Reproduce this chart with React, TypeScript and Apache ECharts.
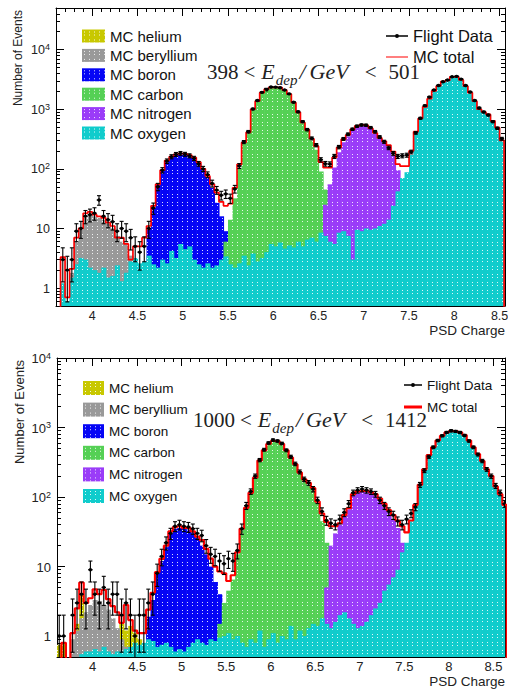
import React, { useEffect, useRef } from 'react';
import * as echarts from 'echarts';

// ---------------- binning and axes ----------------
const BIN_WIDTH = 0.05;
const X_START = 3.6;
const X_MAX = [8.56, 8.63]; // top panel, bottom panel
const Y_MIN = 0.5;
const Y_MAX = [50000, 10000];
const X_MAJOR_TICKS = [4, 4.5, 5, 5.5, 6, 6.5, 7, 7.5, 8, 8.5];
const Y_DECADES = [1, 10, 100, 1000, 10000];

const SPECIES = ['MC helium', 'MC beryllium', 'MC boron', 'MC carbon', 'MC nitrogen', 'MC oxygen'];
const SPECIES_COLORS = ['#c8c800', '#999999', '#0505f5', '#55d055', '#9a3cf8', '#10cccc'];

// ---------------- top panel: 398 < Edep/GeV < 501 (bins from 3.60, width 0.05) ----------------
const totalTop = [
  0, 3.3, 0.7, 2.1, 7, 10, 18, 19, 17, 16,
  15, 12.5, 11, 7, 7, 5.5, 3, 5, 5, 7,
  11, 24, 55, 95, 138, 160, 175, 180, 178, 170,
  155, 130, 100, 76, 55, 40, 28, 24, 26, 48,
  119, 277, 410, 1000, 1370, 1900, 2170, 2330, 2330, 2300,
  2100, 1800, 1300, 890, 600, 450, 320, 240, 130, 105,
  105, 155, 228, 313, 370, 460, 525, 545, 535, 480,
  400, 330, 290, 250, 195, 120, 111, 111, 200, 420,
  700, 1100, 1500, 2030, 2450, 2900, 3050, 3500, 3500, 3100,
  2450, 1900, 1370, 1000, 900, 820, 640, 490, 300,
];
const flightTop = [
  0, 3, 2, 3, 9, 10, 16, 17, 18, 30,
  16, 14, 13, 9, 10, 9, 7, 5, 4, 5,
  10, 22, 50, 95, 135, 160, 175, 182, 176, 166,
  150, 122, 100, 80, 57, 44, 36, 38, 32, 46,
  112, 282, 420, 1010, 1400, 1920, 2200, 2360, 2350, 2300,
  2100, 1810, 1310, 905, 620, 455, 325, 250, 142, 122,
  120, 162, 232, 318, 380, 462, 520, 545, 540, 492,
  420, 342, 285, 225, 182, 162, 166, 170, 192, 402,
  705, 1150, 1600, 2100, 2500, 2900, 3100, 3500, 3560, 3200,
  2500, 1950, 1400, 1050, 900, 800, 620, 480, 320,
];
const heliumTopStart = 15;
const heliumTop = [0.6, 0.7, 0.9, 0.6];
const berylliumTopStart = 2;
const berylliumTop = [0.6, 1.8, 6, 9.5, 15, 17, 16, 15, 14, 12, 10, 7.5, 6, 5.5, 3.5, 2, 1.2, 0.8];
const boronTopStart = 19;
const boronTop = [0.8, 10, 22, 55, 95, 135, 158, 172, 176, 174, 165, 148, 122, 97, 72, 48, 27, 16, 9, 3, 0.8];
const carbonTopStart = 35;
const carbonTop = [
  0.7, 1.5, 6, 14, 32, 100, 265, 400, 980, 1350, 1880, 2150, 2310, 2310, 2280,
  2080, 1780, 1280, 870, 580, 430, 300, 210, 90, 45, 14, 4, 1.5, 0.7,
];
const nitrogenTopStart = 54;
const nitrogenTop = [
  0.6, 0.8, 1.2, 2, 4, 25, 55, 105, 190, 280, 350, 450, 510, 530, 525, 470, 390,
  320, 275, 230, 165, 95, 55, 25, 8, 2.5, 0.8,
];
const oxygenTopStart = 1;
const oxygenTop = [
  1.2, 0.6, 1.5, 2.5, 3.2, 3.0, 2.2, 2.0, 1.8, 2.2,
  1.5, 1.6, 2.4, 1.3, 1.8, 2.8, 3.2, 2.6, 2.8, 3.5,
  2.5, 2.2, 3.0, 2.6, 4.2, 3.2, 5.5, 4.5, 5.0, 3.0,
  2.5, 2.2, 2.6, 2.2, 2.4, 3.0, 3.4, 2.5, 2.2, 2.6,
  3.5, 2.4, 3.8, 2.8, 3.2, 4.0, 5.5, 5.0, 5.8, 4.6,
  5.2, 4.8, 6.0, 5.0, 6.5, 7.0, 6.0, 8.5, 7.5, 6.0,
  5.5, 8.5, 9.0, 7.5, 3.0, 9.5, 9.0, 10, 9.5, 10,
  11, 12, 14, 24, 42, 70, 88, 170, 400, 690,
  1090, 1490, 2020, 2440, 2890, 3040, 3490, 3490, 3090, 2440,
  1890, 1360, 990, 890, 810, 630, 480, 295,
];

// ---------------- bottom panel: 1000 < Edep/GeV < 1412 ----------------
const totalBottom = [
  0, 0.8, 0, 1.1, 2.5, 5.9, 3.0, 3.5, 4.7, 4.0,
  4.6, 3.4, 2.7, 2.2, 1.55, 2.8, 1.7, 1.2, 1.1, 1.1,
  2.4, 4.2, 8.3, 12.9, 20, 32, 37, 38, 36, 36,
  32, 27, 24, 18, 13, 10, 8.5, 8, 6.2, 7.5,
  16, 35, 70, 115, 190, 335, 470, 580, 640, 640,
  580, 470, 370, 296, 225, 180, 160, 135, 86, 58,
  44, 38, 38, 42, 55, 69, 110, 121, 123, 123,
  118, 110, 95, 80, 65, 55, 46, 38, 31, 46,
  77, 150, 250, 400, 520, 650, 760, 850, 890, 890,
  850, 780, 650, 520, 415, 330, 250, 200, 142, 110,
  77,
];
const flightBottom = [
  1, 1, 0, 2, 3, 4, 3, 9, 4, 3,
  5, 3, 4, 4, 2, 3, 2, 1, 2, 2,
  3, 4, 8, 14, 22, 30, 38, 40, 38, 37,
  35, 30, 28, 20, 15, 14, 12, 11, 13, 12,
  17, 35, 75, 120, 200, 340, 480, 600, 660, 640,
  590, 470, 380, 300, 230, 180, 160, 130, 90, 62,
  46, 42, 40, 48, 60, 80, 115, 125, 130, 125,
  120, 110, 90, 75, 62, 55, 45, 40, 48, 58,
  72, 150, 240, 380, 520, 650, 760, 850, 900, 880,
  850, 770, 640, 520, 410, 330, 250, 200, 145, 115,
  80,
];
const heliumBottomStart = 0;
const heliumBottom = [0.75, 0.8, 0, 0.6, 1.5, 4, 1.2, 0.6, 0, 0, 0, 0, 0, 0.6, 1.5, 1.2, 1.4, 1.1, 0.9, 0.6];
const berylliumBottomStart = 3;
const berylliumBottom = [0.9, 1.2, 1.8, 2.2, 2.8, 3.3, 3.2, 2.8, 2.4, 1.8, 1.3, 0.9, 0.7, 0.6];
const boronBottomStart = 19;
const boronBottom = [0.7, 1.9, 3.3, 8, 12, 19, 30, 35, 36, 35, 34, 31, 26, 20, 15, 10, 6, 4, 2.5, 1.2, 0.6];
const carbonBottomStart = 35;
const carbonBottom = [
  0.8, 1.5, 3, 4.5, 6.5, 15, 34, 68, 112, 185, 330, 460, 570, 630, 630, 570,
  460, 360, 290, 220, 175, 150, 125, 80, 45, 22, 12, 4, 2, 1.2, 0.8,
];
const nitrogenBottomStart = 57;
const nitrogenBottom = [
  0.6, 0.9, 1.5, 5, 20, 30, 40, 53, 67, 105, 118, 120, 120, 115, 105, 90, 75,
  60, 48, 36, 22, 10, 4, 1.5, 0.7,
];
const oxygenBottomStart = 5;
const oxygenBottom = [
  0.55, 0.6, 0.6, 0.65, 0.6, 0.7, 0.6, 0.55, 0.6, 0.6,
  0.65, 0.7, 0.8, 0.75, 0.8, 0.9, 0.85, 0.7, 0.75, 0.8,
  0.7, 0.6, 0.65, 0.6, 0.7, 0.8, 0.9, 0.8, 0.75, 0.9,
  0.85, 0.95, 1.0, 1.1, 0.9, 1.0, 0.8, 0.7, 0.9, 0.8,
  1.2, 0.7, 0.9, 1.1, 0.8, 1.0, 0.9, 1.4, 0.9, 1.2,
  1.0, 1.3, 1.5, 1.4, 1.8, 1.5, 1.3, 1.6, 2.0, 2.2,
  1.8, 1.5, 1.3, 1.4, 1.6, 2.0, 2.5, 3.0, 4.5, 5.5,
  7, 9, 16, 22, 45, 75, 148, 248, 398, 518,
  648, 758, 848, 888, 888, 848, 778, 648, 518, 413,
  328, 248, 198, 140, 108, 76,
];

const PANELS = [
  {
    total: totalTop, flight: flightTop,
    species: [
      [heliumTopStart, heliumTop], [berylliumTopStart, berylliumTop], [boronTopStart, boronTop],
      [carbonTopStart, carbonTop], [nitrogenTopStart, nitrogenTop], [oxygenTopStart, oxygenTop],
    ],
    range: ['398', '501'],
  },
  {
    total: totalBottom, flight: flightBottom,
    species: [
      [heliumBottomStart, heliumBottom], [berylliumBottomStart, berylliumBottom], [boronBottomStart, boronBottom],
      [carbonBottomStart, carbonBottom], [nitrogenBottomStart, nitrogenBottom], [oxygenBottomStart, oxygenBottom],
    ],
    range: ['1000', '1412'],
  },
];

const FONT = 'Liberation Sans';
const SERIF = 'Liberation Serif';

function makePattern(color: string) {
  const W = 5;
  const H = 8;
  const c = document.createElement('canvas');
  c.width = W;
  c.height = H;
  const ctx = c.getContext('2d') as CanvasRenderingContext2D;
  ctx.fillStyle = color;
  ctx.fillRect(0, 0, W, H);
  ctx.fillStyle = 'rgba(255,255,255,0.85)';
  ctx.fillRect(2, 2, 1, 1);
  ctx.fillRect(2, 5, 1, 1);
  return { image: c.toDataURL(), repeat: 'repeat', imageWidth: W, imageHeight: H };
}

function buildOption() {
  const patterns = SPECIES_COLORS.map(makePattern);
  const grids = [
    { left: 56, right: 3, top: 8, height: 298, outerBoundsMode: 'none' },
    { left: 57, right: 3, top: 358, height: 299, outerBoundsMode: 'none' },
  ];
  const xAxes: any[] = [];
  const yAxes: any[] = [];
  const lineStyle = { color: '#000', width: 1 };
  const tickStyle = { color: '#000', width: 1 };

  [0, 1].forEach((g) => {
    const xMax = X_MAX[g];
    const yMax = Y_MAX[g];
    const xMinor: number[] = [];
    for (let k = 37; k <= Math.floor(xMax * 10); k++) if (k % 5 !== 0) xMinor.push(k / 10);
    const yMinor: number[] = [];
    [0.1, 1, 10, 100, 1000, 10000].forEach((d) => {
      for (let s = 2; s <= 9; s++) {
        const v = Math.round(s * d * 1000) / 1000;
        if (v > Y_MIN && v < yMax) yMinor.push(v);
      }
    });
    const decades = Y_DECADES.filter((v) => v <= yMax);
    const fs = g === 0 ? 12.5 : 13;
    ['bottom', 'bottom', 'top', 'top'].forEach((pos, k) => {
      const major = k % 2 === 0;
      const ax: any = {
        type: 'value', gridIndex: g, min: X_START, max: xMax, position: pos, silent: true,
        axisLine: { show: major, onZero: false, lineStyle },
        axisTick: { show: true, inside: true, length: major ? 8 : 4, customValues: major ? X_MAJOR_TICKS : xMinor, lineStyle: tickStyle },
        axisLabel: {
          show: major && pos === 'bottom', customValues: X_MAJOR_TICKS, margin: 3,
          fontFamily: FONT, fontSize: fs, color: '#222',
        },
        splitLine: { show: false },
      };
      if (major && pos === 'bottom') {
        ax.name = 'PSD Charge';
        ax.nameLocation = 'end';
        ax.nameGap = 0;
        ax.nameMoveOverlap = false;
        ax.nameTextStyle = {
          fontFamily: FONT, fontSize: 13.5, color: '#222', align: 'right', verticalAlign: 'top',
          padding: [17, 0, 0, 0],
        };
      }
      xAxes.push(ax);
    });
    ['left', 'left', 'right', 'right'].forEach((pos, k) => {
      const major = k % 2 === 0;
      yAxes.push({
        type: 'log', logBase: 10, gridIndex: g, min: Y_MIN, max: yMax, position: pos, silent: true,
        axisLine: { show: major, onZero: false, lineStyle },
        axisTick: { show: true, inside: true, length: major ? 8 : 4, customValues: major ? decades : yMinor, lineStyle: tickStyle },
        axisLabel: {
          show: major && pos === 'left', customValues: decades, margin: 6,
          formatter: (v: number) => (v >= 100 ? `{b|10}{e|${Math.round(Math.log10(v))}}` : `{b|${v}}`),
          rich: {
            b: { fontFamily: FONT, fontSize: fs, lineHeight: 14, color: '#222', verticalAlign: 'bottom' },
            e: { fontFamily: FONT, fontSize: 9, lineHeight: 9, color: '#222', verticalAlign: 'top' },
          },
        },
        splitLine: { show: false },
        minorTick: { show: false },
      });
    });
  });

  const series: any[] = [];
  PANELS.forEach((panel, g) => {
    const axisIdx = g * 4;
    panel.species.forEach(([start, values]: any, s: number) => {
      const data: number[][] = [];
      (values as number[]).forEach((v, k) => {
        if (v > 0) data.push([X_START + ((start as number) + k) * BIN_WIDTH, v]);
      });
      const pat = patterns[s];
      series.push({
        type: 'custom', name: SPECIES[s], xAxisIndex: axisIdx, yAxisIndex: axisIdx,
        itemStyle: { color: pat, borderWidth: 0 }, clip: true, silent: true, z: 2,
        data,
        renderItem: (params: any, api: any) => {
          const x0 = api.value(0);
          const v = api.value(1);
          if (!(v > Y_MIN)) return null;
          const p1 = api.coord([x0, v]);
          const p2 = api.coord([x0 + BIN_WIDTH, Y_MIN]);
          return {
            type: 'rect',
            shape: { x: p1[0], y: p1[1], width: p2[0] - p1[0] + 0.6, height: p2[1] - p1[1] },
            style: { fill: pat },
          };
        },
      });
    });

    // MC total as a step line over bin edges
    const stepData: number[][] = [];
    panel.total.forEach((v, k) => stepData.push([X_START + k * BIN_WIDTH, v > 0 ? v : 0.05]));
    const last = panel.total[panel.total.length - 1];
    stepData.push([X_START + panel.total.length * BIN_WIDTH, last]);
    stepData.push([X_START + panel.total.length * BIN_WIDTH, 0.05]);
    series.push({
      type: 'line', name: 'MC total', xAxisIndex: axisIdx, yAxisIndex: axisIdx,
      data: stepData, step: 'end', symbol: 'none', showSymbol: false, clip: true, silent: true, z: 3,
      lineStyle: { color: '#ff0000', width: g === 0 ? 1.7 : 2.2 },
      itemStyle: { color: '#ff0000' },
    });

    // Flight data with Poisson error bars
    const fdata: number[][] = [];
    panel.flight.forEach((n, k) => {
      if (n > 0) fdata.push([X_START + (k + 0.5) * BIN_WIDTH, n]);
    });
    series.push({
      type: 'custom', name: 'Flight Data', xAxisIndex: axisIdx, yAxisIndex: axisIdx,
      itemStyle: { color: '#000' }, clip: true, silent: true, z: 4,
      data: fdata,
      renderItem: (params: any, api: any) => {
        const xc = api.value(0);
        const n = api.value(1);
        const err = Math.sqrt(n);
        const c = api.coord([xc, n]);
        const l = api.coord([xc - BIN_WIDTH / 2, n]);
        const r = api.coord([xc + BIN_WIDTH / 2, n]);
        const hi = api.coord([xc, n + err]);
        const lowVal = n - err > 0.2 ? n - err : 0.2;
        const lo = api.coord([xc, lowVal]);
        const st = { stroke: '#000', lineWidth: 1.1 };
        return {
          type: 'group',
          children: [
            { type: 'line', shape: { x1: l[0], y1: c[1], x2: r[0], y2: c[1] }, style: { stroke: '#000', lineWidth: 1.4 } },
            { type: 'line', shape: { x1: c[0], y1: hi[1], x2: c[0], y2: lo[1] }, style: st },
            { type: 'line', shape: { x1: c[0] - 2, y1: hi[1], x2: c[0] + 2, y2: hi[1] }, style: st },
            { type: 'line', shape: { x1: c[0] - 2, y1: lo[1], x2: c[0] + 2, y2: lo[1] }, style: st },
            { type: 'circle', shape: { cx: c[0], cy: c[1], r: 1.7 }, style: { fill: '#000' } },
          ],
        };
      },
    });
  });

  const legendText = (size: number, lh: number) => ({ fontFamily: FONT, fontSize: size, lineHeight: lh, color: '#111' });
  const corner = (w: number, h: number) => `M0,0h0.01v0.01h-0.01zM${w},${h}h-0.01v-0.01h0.01z`;
  const lineIcon = (w: number, h: number, t: number) => `path://${corner(w, h)}M0,${h / 2 - t / 2}h${w}v${t}h-${w}z`;
  const flightIcon = (w: number, h: number, t: number, r: number) =>
    `path://${corner(w, h)}M0,${h / 2 - t / 2}h${w}v${t}h-${w}zM${w / 2 - r},${h / 2}a${r},${r} 0 1,1 ${2 * r},0a${r},${r} 0 1,1 -${2 * r},0z`;

  const legend = [
    {
      orient: 'vertical', left: 77, top: 23, itemWidth: 23, itemHeight: 13, itemGap: 3.4, icon: 'rect',
      selectedMode: false, data: SPECIES, textStyle: legendText(15, 16), itemStyle: { borderWidth: 0 },
    },
    {
      orient: 'vertical', left: 381, top: 22.5, itemWidth: 22, itemHeight: 13, itemGap: 4,
      selectedMode: false, textStyle: legendText(16.5, 17), itemStyle: { borderWidth: 0 },
      data: [
        { name: 'Flight Data', icon: flightIcon(22, 13, 1.6, 2) },
        { name: 'MC total', icon: lineIcon(22, 13, 1.2) },
      ],
    },
    {
      orient: 'vertical', left: 78, top: 375, itemWidth: 21, itemHeight: 14, itemGap: 5.6, icon: 'rect',
      selectedMode: false, data: SPECIES, textStyle: legendText(13.5, 16), itemStyle: { borderWidth: 0 },
    },
    {
      orient: 'vertical', left: 399, top: 372, itemWidth: 18, itemHeight: 12, itemGap: 6,
      selectedMode: false, textStyle: legendText(13.5, 16), itemStyle: { borderWidth: 0 },
      data: [
        { name: 'Flight Data', icon: flightIcon(18, 12, 1.6, 2) },
        { name: 'MC total', icon: lineIcon(18, 12, 3) },
      ],
    },
  ];

  const serifTok = (size: number, italic: boolean, pad: number[]) => ({
    fontFamily: SERIF, fontSize: size, lineHeight: size + 1, fill: '#222', fontStyle: italic ? 'italic' : 'normal',
    verticalAlign: 'bottom', padding: pad,
  });
  const annotation = (x: number, y: number, lo: string, hi: string) => ({
    type: 'text', x, y, silent: true,
    style: {
      text: `{n|${lo}}{o|<}{e|E}{s|dep}{d|/}{i|GeV}{p|<}{n|${hi}}`,
      verticalAlign: 'middle',
      rich: {
        n: serifTok(21, false, [0, 0, 5, 0]),
        o: serifTok(21, false, [0, 6, 5, 5]),
        p: serifTok(21, false, [0, 12, 5, 16]),
        e: serifTok(22, true, [0, 1, 5, 0]),
        s: { fontFamily: SERIF, fontSize: 15, lineHeight: 15, fill: '#222', fontStyle: 'italic', verticalAlign: 'bottom' },
        d: serifTok(22, true, [0, 4, 5, 2]),
        i: serifTok(22, true, [0, 0, 5, 0]),
      },
    },
  });

  const graphic = [
    {
      type: 'text', x: 18, y: 10, rotation: Math.PI / 2, silent: true,
      style: { text: 'Number of Events', fontFamily: FONT, fontSize: 12, fill: '#222', align: 'right', verticalAlign: 'middle' },
    },
    {
      type: 'text', x: 19, y: 360, rotation: Math.PI / 2, silent: true,
      style: { text: 'Number of Events', fontFamily: FONT, fontSize: 13, fill: '#222', align: 'right', verticalAlign: 'middle' },
    },
    annotation(207, 76, PANELS[0].range[0], PANELS[0].range[1]),
    annotation(193, 424, PANELS[1].range[0], PANELS[1].range[1]),
  ];

  return {
    animation: false,
    backgroundColor: '#ffffff',
    grid: grids,
    xAxis: xAxes,
    yAxis: yAxes,
    legend,
    graphic,
    series,
  };
}

export default function App() {
  const ref = useRef<HTMLDivElement>(null);
  useEffect(() => {
    const chart = echarts.init(ref.current as HTMLDivElement, null, { renderer: 'svg', width: 508, height: 692 });
    chart.setOption(buildOption() as any);
    return () => chart.dispose();
  }, []);
  return (
    <div
      ref={ref}
      style={{ position: 'absolute', left: 0, top: 0, width: 508, height: 692, background: '#ffffff' }}
    />
  );
}
